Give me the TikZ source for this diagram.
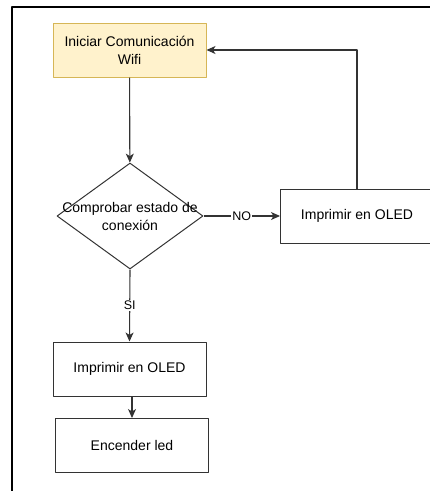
\documentclass[tikz,border=0pt]{standalone}
\usepackage{fontspec}
\setmainfont{Liberation Sans}
\usetikzlibrary{shapes.geometric,arrows.meta}
\definecolor{notefill}{HTML}{FFF2CC}
\definecolor{notedraw}{HTML}{D6B656}
\definecolor{edgegray}{HTML}{333333}

\begin{document}
\begin{tikzpicture}[x=1pt, y=-1pt, >={Stealth[length=9pt,width=8pt,inset=2.5pt]}, line join=round,
    box/.style={draw=edgegray, line width=1pt, rectangle, minimum width=153pt, minimum height=54pt,
        inner sep=0pt, font=\fontsize{14}{18}\selectfont, align=center},
    flow/.style={->, draw=edgegray, line width=1.1pt},
    lbl/.style={fill=white, inner sep=1pt, font=\fontsize{12.5}{15}\selectfont}]
    % marco
    \useasboundingbox (0,0) rectangle (430,491);
    \clip (0,0) rectangle (430,491);
    \coordinate (F0) at (12,491);
    \coordinate (F1) at (12,6.5);
    \coordinate (F2) at (430,6.5);
    \draw[line width=2pt] (F0) -- (F1) -- (F2);

    % bloques
    \node[box, fill=notefill, draw=notedraw] (start) at (129.5,50) {Iniciar Comunicación\\Wifi};
    \node[diamond, draw=edgegray, line width=1pt, minimum width=146pt, minimum height=106pt,
        inner sep=0pt] (check) at (130,216) {};
    \node[font=\fontsize{14}{18}\selectfont, align=center, inner sep=0pt] (checktext) at (check.center)
        {Comprobar estado de\\conexión};
    \node[box] (oled2) at (357,216) {Imprimir en OLED};
    \node[box] (oled1) at (129.5,369) {Imprimir en OLED};
    \node[box] (led) at (132,445.5) {Encender led};

    % flechas
    \draw[flow] (start) -- (check);
    \draw[flow] (check.east) -- (oled2.west) node[lbl, midway] {NO};
    \draw[flow] (oled2.north) |- (start.east);
    \draw[flow] (check.south) -- (oled1.north) node[lbl, midway] {SI};
    \draw[flow] (led.north |- oled1.south) -- (led.north);
\end{tikzpicture}
\end{document}
